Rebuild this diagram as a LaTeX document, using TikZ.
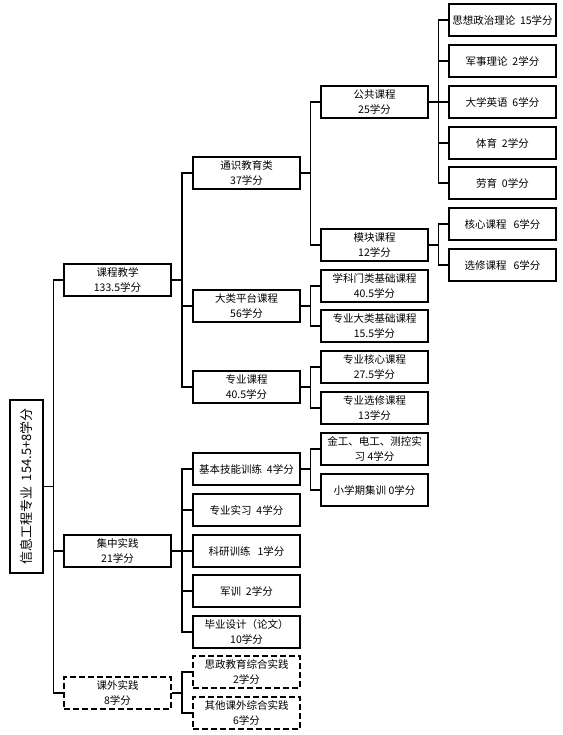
\documentclass[tikz,border=0pt]{standalone}
\usepackage{fontspec}
\setmainfont{Noto Sans CJK SC}
\usepackage{tikz}
\usetikzlibrary{calc}

\tikzset{
  box/.style={draw, line width=2pt, minimum width=107pt, minimum height=32pt,
    inner sep=1pt, align=center, font=\fontsize{10.5}{15}\selectfont},
  dbox/.style={box, dash pattern=on 6pt off 3pt},
  link/.style={line width=1.5pt}
}

\begin{document}
\begin{tikzpicture}[x=1pt,y=-1pt]
  \useasboundingbox (0,0) rectangle (562,735);

  %% Root of the tree
  \node[box, minimum width=33pt, minimum height=173pt] (root) at (26.5,486.5)
    {\rotatebox{90}{\fontsize{13}{15}\selectfont 信息工程专业\ \ 154.5+8学分}};

  %% First level
  \node[box]  (KC) at (117.5,280) {课程教学\\133.5学分};
  \node[box]  (JZ) at (117.5,551) {集中实践\\21学分};
  \node[dbox] (KW) at (117.5,693) {课外实践\\8学分};

  %% Second level
  \node[box] (TS) at (246.5,173) {通识教育类\\37学分};
  \node[box] (DL) at (246.5,306) {大类平台课程\\56学分};
  \node[box] (ZY) at (246.5,387) {专业课程\\40.5学分};
  \foreach \n/\y/\t in {J1/469/基本技能训练\ \ 4学分, J2/510/专业实习\ \ 4学分,
                        J3/551/科研训练\ \ \ 1学分, J4/591/军训\ \ 2学分,
                        J5/632/{毕业设计（论文）\\10学分}}
  {
    \node[box] (\n) at (246.5,\y) {\t};
  }
  \node[dbox] (W1) at (246.5,672) {思政教育综合实践\\2学分};
  \node[dbox] (W2) at (246.5,713) {其他课外综合实践\\6学分};

  %% Third level
  \node[box] (GG) at (374.5,102) {公共课程\\25学分};
  \node[box] (MK) at (374.5,245) {模块课程\\12学分};
  \node[box] (D1) at (374.5,286) {学科门类基础课程\\40.5学分};
  \node[box] (D2) at (374.5,326) {专业大类基础课程\\15.5学分};
  \node[box] (Z1) at (374.5,367) {专业核心课程\\27.5学分};
  \node[box] (Z2) at (374.5,408) {专业选修课程\\13学分};
  \node[box] (B1) at (374.5,449) {金工、电工、测控实\\习 4学分};
  \node[box] (B2) at (374.5,490) {小学期集训 0学分};

  %% Fourth level
  \foreach \n/\y/\t in {G1/20/思想政治理论\ \ 15学分, G2/61/军事理论\ \ 2学分,
                        G3/102/大学英语\ \ 6学分, G4/143/体育\ \ 2学分,
                        G5/183/劳育\ \ 0学分, M1/224/核心课程\ \ \ 6学分,
                        M2/265/选修课程\ \ \ 6学分}
  {
    \node[box] (\n) at (502.5,\y) {\t};
  }

  %% Elbow connectors, parent/child
  \foreach \p/\c in {root/KC, root/JZ, root/KW,
                     KC/TS, KC/DL, KC/ZY,
                     TS/GG, TS/MK, DL/D1, DL/D2, ZY/Z1, ZY/Z2,
                     GG/G1, GG/G2, GG/G3, GG/G4, GG/G5, MK/M1, MK/M2,
                     JZ/J1, JZ/J2, JZ/J3, JZ/J4, JZ/J5, J1/B1, J1/B2,
                     KW/W1, KW/W2}
  {
    \draw[link] (\p.east) -| ($(\p.east)!0.5!(\c.west)$) |- (\c.west);
  }
\end{tikzpicture}
\end{document}
